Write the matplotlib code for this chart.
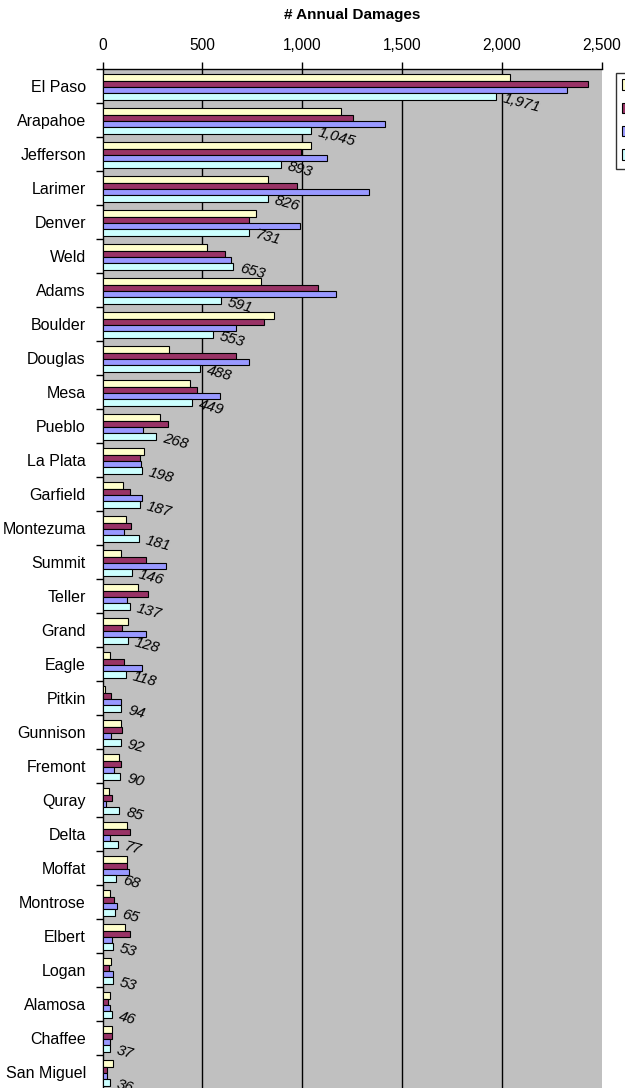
import matplotlib
matplotlib.use("Agg")
import matplotlib.pyplot as plt
import numpy as np

plt.rcParams['font.family'] = ['Liberation Sans', 'DejaVu Sans']

counties = ["El Paso", "Arapahoe", "Jefferson", "Larimer", "Denver", "Weld", "Adams",
            "Boulder", "Douglas", "Mesa", "Pueblo", "La Plata", "Garfield", "Montezuma",
            "Summit", "Teller", "Grand", "Eagle", "Pitkin", "Gunnison", "Fremont",
            "Quray", "Delta", "Moffat", "Montrose", "Elbert", "Logan", "Alamosa",
            "Chaffee", "San Miguel"]

series1 = [2038, 1192, 1043, 826, 768, 522, 795, 860, 332, 439, 286, 207, 104, 118,
           93, 180, 128, 37, 12, 92, 82, 32, 123, 123, 37, 113, 42, 37, 47, 52]
series2 = [2428, 1252, 992, 973, 732, 612, 1077, 810, 667, 475, 327, 190, 140, 145,
           218, 229, 97, 108, 42, 97, 92, 47, 138, 123, 57, 138, 32, 27, 47, 22]
series3 = [2326, 1416, 1123, 1334, 990, 641, 1168, 667, 732, 588, 202, 192, 197, 109,
           319, 123, 217, 197, 93, 42, 57, 17, 37, 133, 72, 47, 52, 37, 37, 22]
series4 = [1971, 1045, 893, 826, 731, 653, 591, 553, 488, 449, 268, 198, 187, 181,
           146, 137, 128, 118, 94, 92, 90, 85, 77, 68, 65, 53, 53, 46, 37, 36]

series_names = ["Series 1", "Series 2", "Series 3", "Series 4"]
colors = ["#FFFFCC", "#993366", "#9999FF", "#CCFFFF"]
xticks = [0, 500, 1000, 1500, 2000, 2500]

n = len(counties)
W, H = 625, 1088
fig = plt.figure(figsize=(W / 100, H / 100), dpi=100)

top_px, band_px = 69.0, 34.0
ax_left = 102.5 / W
ax_w = (602 - 102.5) / W
ax_h = n * band_px / H
ax_bottom = 1 - top_px / H - ax_h
ax = fig.add_axes([ax_left, ax_bottom, ax_w, ax_h])
ax.set_facecolor("#C0C0C0")

y = np.arange(n)
h = 0.185
shift = 0.03
all_series = [series1, series2, series3, series4]
handles = []
for k, (vals, c, name) in enumerate(zip(all_series, colors, series_names)):
    b = ax.barh(y + (k - 1.5) * h + shift, vals, height=h, color=c,
                edgecolor="black", linewidth=0.8, label=name, zorder=3)
    handles.append(b)

for i, v in enumerate(series4):
    ax.annotate(f"{v:,}", xy=(v, i + 1.5 * h + shift), xytext=(5, -1),
                textcoords="offset points", ha="left", va="center",
                rotation=-15, rotation_mode="anchor", fontsize=11,
                style="italic", color="black", zorder=5, annotation_clip=False)

ax.set_xlim(0, 2500)
ax.set_ylim(n - 0.5, -0.5)
ax.xaxis.tick_top()
ax.set_xticks(xticks)
ax.set_xticklabels([f"{t:,}" for t in xticks], fontsize=11.2)
ax.tick_params(axis="x", which="major", length=5, width=1, pad=6.5, direction="out",
               top=True, bottom=False)
ax.set_yticks(np.arange(n + 1) - 0.5)
ax.set_yticklabels([])
ax.set_yticks(y, minor=True)
ax.set_yticklabels(counties, minor=True, fontsize=11.5)
ax.tick_params(axis="y", which="major", length=5, width=1, direction="out")
ax.tick_params(axis="y", which="minor", length=0, pad=12)

for gx in xticks[1:-1]:
    ax.axvline(gx, color="black", linewidth=1, zorder=1)

for s in ["right", "bottom"]:
    ax.spines[s].set_visible(False)
for s in ["left", "top"]:
    ax.spines[s].set_color("black")
    ax.spines[s].set_linewidth(1)

fig.text(352 / W, 1 - 15 / H, "# Annual Damages", ha="center", va="center",
         fontsize=11, fontweight="bold")

fig.legend(handles=handles, labels=series_names, loc="upper left",
           bbox_to_anchor=(616 / W, 1 - 73 / H), borderaxespad=0,
           frameon=True, fancybox=False, edgecolor="black", fontsize=11,
           handlelength=0.7, handleheight=0.7, borderpad=0.4, labelspacing=0.6,
           handletextpad=0.5)

fig.savefig("out.png", dpi=100)
